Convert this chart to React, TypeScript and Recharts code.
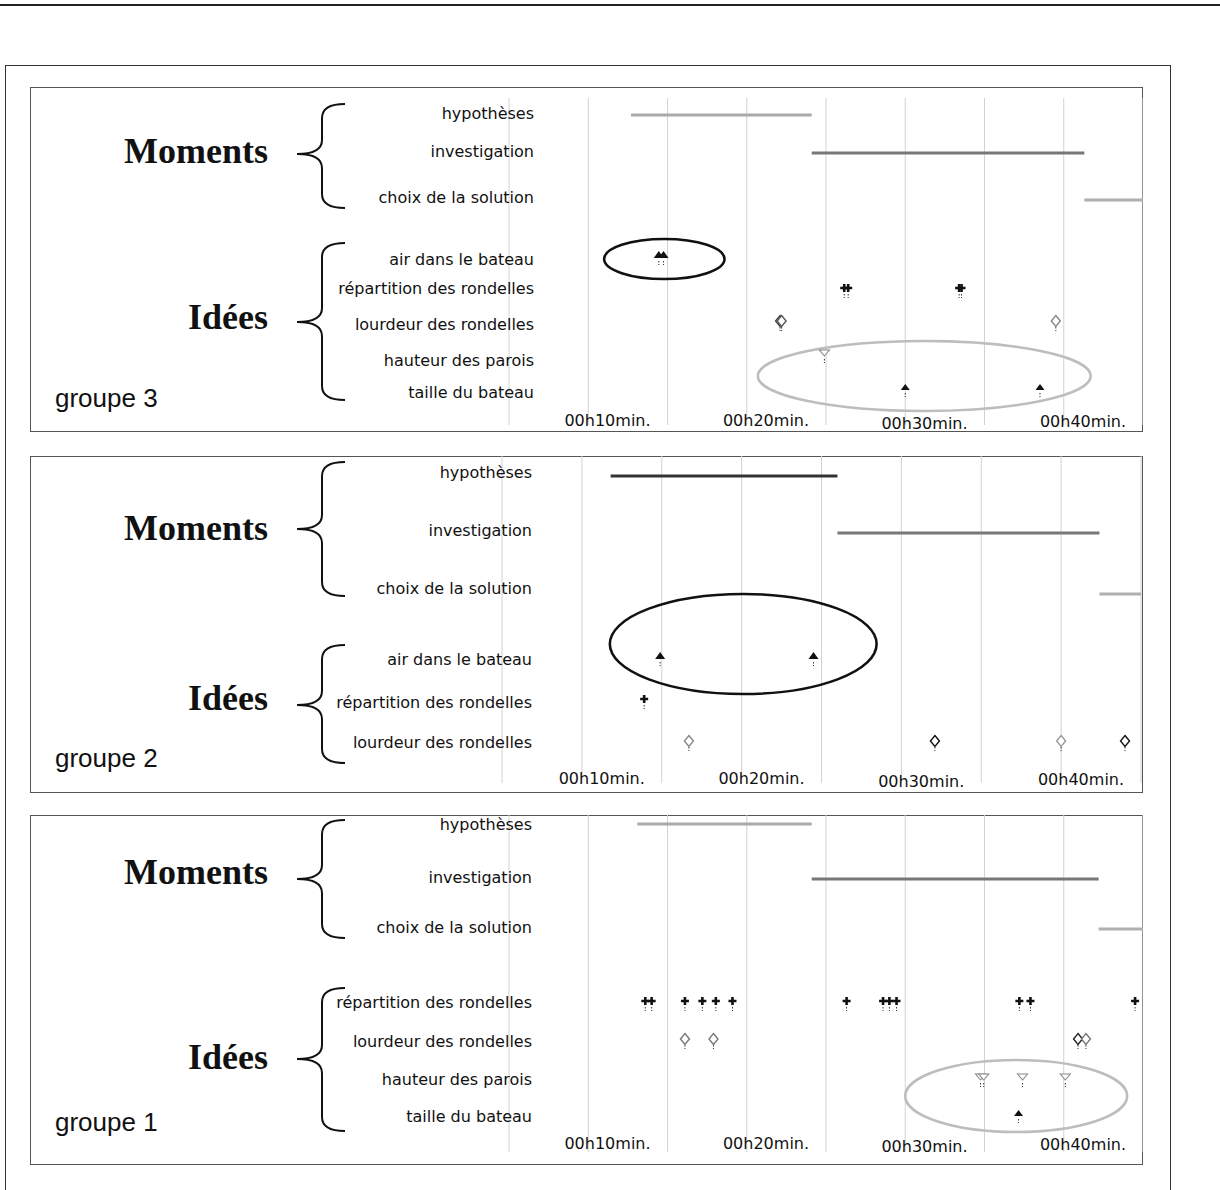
import React from "react";
import { ComposedChart, Scatter, XAxis, YAxis, CartesianGrid } from "recharts";

// time axis, in minutes
const TIME_TICKS = [0, 5, 10, 15, 20, 25, 30, 35, 40];
const LABELLED_TIMES = [10, 20, 30, 40];
const TIME_LABELS = ["00h10min.", "00h20min.", "00h30min.", "00h40min."];

const MOMENTS = ["hypothèses", "investigation", "choix de la solution"];
const AIR = "air dans le bateau";
const REPARTITION = "répartition des rondelles";
const LOURDEUR = "lourdeur des rondelles";
const HAUTEUR = "hauteur des parois";
const TAILLE = "taille du bateau";

// groupe 3
const g3Moments = [[7.7, 19.1], [19.1, 36.3], [36.3, 40]];
const g3Air = [9.45, 9.75];
const g3Repartition = [21.15, 21.4, 28.4, 28.55];
const g3Lourdeur = [17.1, 17.2, 34.5];
const g3LourdeurTone = ["#444", "#555", "#888"];
const g3Hauteur = [19.9];
const g3Taille = [25.0, 33.5];

// groupe 2
const g2Moments = [[6.8, 21.0], [21.0, 37.4], [37.4, 40]];
const g2Air = [9.9, 19.5];
const g2Repartition = [8.9];
const g2Lourdeur = [11.7, 27.1, 35.0, 39.0];
const g2LourdeurTone = ["#888", "#111", "#999", "#111"];

// groupe 1
const g1Moments = [[8.1, 19.1], [19.1, 37.2], [37.2, 40]];
const g1Repartition = [8.6, 9.0, 11.1, 12.2, 13.05, 14.1, 21.3, 23.6, 24.0, 24.45, 32.2, 32.9, 39.5];
const g1Lourdeur = [11.1, 12.9, 35.9, 36.4];
const g1LourdeurTone = ["#777", "#777", "#222", "#777"];
const g1Hauteur = [29.75, 29.95, 32.4, 35.1];
const g1Taille = [32.15];

const KIND: Record<string, string> = {
  [AIR]: "triUp",
  [REPARTITION]: "plus",
  [LOURDEUR]: "diamond",
  [HAUTEUR]: "triDown",
  [TAILLE]: "triUpSmall",
};

const LABEL_FONT = "'DejaVu Sans', Verdana, sans-serif";
const TICK_JITTER = [0, 0, 3, 1];

function Mark({ cx, cy, kind, color }: any) {
  const dots = (
    <line x1={cx} x2={cx} y1={cy + 6} y2={cy + 10} stroke="#333" strokeWidth={1} strokeDasharray="1.5 1.5" />
  );
  let body: any = null;
  if (kind === "plus") {
    body = <path d={`M${cx - 4} ${cy}H${cx + 4}M${cx} ${cy - 4}V${cy + 4}`} stroke="#111" strokeWidth={2.6} />;
  } else if (kind === "diamond") {
    body = (
      <polygon points={`${cx},${cy - 5.5} ${cx + 4.5},${cy} ${cx},${cy + 5.5} ${cx - 4.5},${cy}`}
        fill="#fff" stroke={color || "#777"} strokeWidth={1.4} />
    );
  } else if (kind === "triDown") {
    body = (
      <polygon points={`${cx - 5},${cy - 3} ${cx + 5},${cy - 3} ${cx},${cy + 3}`}
        fill="#fff" stroke="#888" strokeWidth={1.1} />
    );
  } else if (kind === "triUp") {
    body = <polygon points={`${cx - 5},${cy + 3} ${cx + 5},${cy + 3} ${cx},${cy - 4}`} fill="#111" />;
  } else {
    body = <polygon points={`${cx - 4.5},${cy + 3} ${cx + 4.5},${cy + 3} ${cx},${cy - 3}`} fill="#111" />;
  }
  return (
    <g>
      {dots}
      {body}
    </g>
  );
}

function bracePath(xr: number, xm: number, xl: number, top: number, tip: number, bottom: number) {
  const r = 14;
  return `M${xr} ${top} Q${xm} ${top} ${xm} ${top + r} L${xm} ${tip - r} Q${xm} ${tip} ${xl} ${tip} ` +
    `Q${xm} ${tip} ${xm} ${tip + r} L${xm} ${bottom - r} Q${xm} ${bottom} ${xr} ${bottom}`;
}

const PANELS = [
  {
    group: "groupe 3",
    top: 87, height: 345, plotLeft: 479, plotRight: 1113, gridTop: 11, gridBottom: 338, tickY: 333, labelX: 504,
    rows: [
      { name: MOMENTS[0], y: 28, ly: 26 },
      { name: MOMENTS[1], y: 66, ly: 64 },
      { name: MOMENTS[2], y: 113, ly: 110 },
      { name: AIR, y: 168, ly: 172 },
      { name: REPARTITION, y: 201, ly: 201 },
      { name: LOURDEUR, y: 234, ly: 237 },
      { name: HAUTEUR, y: 266, ly: 273 },
      { name: TAILLE, y: 300, ly: 305 },
    ],
    moments: g3Moments,
    momentColors: ["#aaaaaa", "#777777", "#b0b0b0"],
    ideas: [
      { name: AIR, times: g3Air },
      { name: REPARTITION, times: g3Repartition },
      { name: LOURDEUR, times: g3Lourdeur, tones: g3LourdeurTone },
      { name: HAUTEUR, times: g3Hauteur },
      { name: TAILLE, times: g3Taille },
    ],
    ellipses: [
      { t: 9.8, y: 172, half: 3.8, ry: 20, color: "#111" },
      { t: 26.2, y: 289, half: 10.5, ry: 35, color: "#bdbdbd" },
    ],
    decor: { moments: 76, idees: 242, mb: [17, 67, 121], ib: [156, 235, 313], groupe: 320 },
  },
  {
    group: "groupe 2",
    top: 456, height: 337, plotLeft: 472, plotRight: 1111, gridTop: 0, gridBottom: 327, tickY: 322, labelX: 502,
    rows: [
      { name: MOMENTS[0], y: 20, ly: 16 },
      { name: MOMENTS[1], y: 77, ly: 74 },
      { name: MOMENTS[2], y: 138, ly: 132 },
      { name: AIR, y: 200, ly: 203 },
      { name: REPARTITION, y: 243, ly: 246 },
      { name: LOURDEUR, y: 285, ly: 286 },
    ],
    moments: g2Moments,
    momentColors: ["#333333", "#777777", "#b0b0b0"],
    ideas: [
      { name: AIR, times: g2Air },
      { name: REPARTITION, times: g2Repartition },
      { name: LOURDEUR, times: g2Lourdeur, tones: g2LourdeurTone },
    ],
    ellipses: [{ t: 15.1, y: 188, half: 8.35, ry: 50, color: "#111" }],
    decor: { moments: 84, idees: 254, mb: [6, 73, 140], ib: [189, 249, 307], groupe: 311 },
  },
  {
    group: "groupe 1",
    top: 815, height: 350, plotLeft: 479, plotRight: 1113, gridTop: 0, gridBottom: 337, tickY: 328, labelX: 502,
    rows: [
      { name: MOMENTS[0], y: 9, ly: 9 },
      { name: MOMENTS[1], y: 64, ly: 62 },
      { name: MOMENTS[2], y: 114, ly: 112 },
      { name: REPARTITION, y: 186, ly: 187 },
      { name: LOURDEUR, y: 224, ly: 226 },
      { name: HAUTEUR, y: 262, ly: 264 },
      { name: TAILLE, y: 298, ly: 301 },
    ],
    moments: g1Moments,
    momentColors: ["#aaaaaa", "#777777", "#b0b0b0"],
    ideas: [
      { name: REPARTITION, times: g1Repartition },
      { name: LOURDEUR, times: g1Lourdeur, tones: g1LourdeurTone },
      { name: HAUTEUR, times: g1Hauteur },
      { name: TAILLE, times: g1Taille },
    ],
    ellipses: [{ t: 32.0, y: 281, half: 7.0, ry: 36, color: "#bdbdbd" }],
    decor: { moments: 69, idees: 254, mb: [5, 64, 123], ib: [173, 244, 316], groupe: 316 },
  },
];

const W = 1113;

function Panel({ cfg }: any) {
  const rowY = (name: string) => cfg.rows.find((r: any) => r.name === name).y;
  const pxPerMin = (cfg.plotRight - cfg.plotLeft) / 40;
  const d = cfg.decor;

  return (
    <div style={{ position: "absolute", left: 30, top: cfg.top, width: W, height: cfg.height }}>
      <div style={{ position: "absolute", inset: 0, border: "1px solid #555", boxSizing: "border-box" }} />
      <svg width={W} height={cfg.height} style={{ position: "absolute", left: 0, top: 0 }}>
        <text x={238} y={d.moments} textAnchor="end" fontFamily="'Liberation Serif', 'Times New Roman', serif"
          fontWeight="bold" fontSize={36} fill="#111">Moments</text>
        <text x={238} y={d.idees} textAnchor="end" fontFamily="'Liberation Serif', 'Times New Roman', serif"
          fontWeight="bold" fontSize={36} fill="#111">Idées</text>
        <path d={bracePath(315, 292, 267, d.mb[0], d.mb[1], d.mb[2])} fill="none" stroke="#111" strokeWidth={2} />
        <path d={bracePath(315, 292, 267, d.ib[0], d.ib[1], d.ib[2])} fill="none" stroke="#111" strokeWidth={2} />
        <text x={25} y={d.groupe} fontFamily="'Liberation Sans', Arial, sans-serif" fontSize={26} fill="#111">
          {cfg.group}
        </text>
      </svg>
      <div style={{ position: "absolute", left: 0, top: 0 }}>
        <ComposedChart
          width={W}
          height={cfg.height}
          margin={{ top: cfg.gridTop, right: W - cfg.plotRight, bottom: cfg.height - cfg.gridBottom - 1, left: 0 }}
        >
          <CartesianGrid vertical horizontal={false} stroke="#d2d2d2" />
          <XAxis
            type="number"
            dataKey="t"
            domain={[0, 40]}
            ticks={TIME_TICKS}
            interval={0}
            height={1}
            axisLine={false}
            tickLine={false}
            allowDataOverflow
            tick={(p: any) => {
              const i = LABELLED_TIMES.indexOf(p.payload.value);
              if (i < 0) return <g />;
              return (
                <text x={p.x - 60} y={cfg.tickY + TICK_JITTER[i]} textAnchor="middle" dominantBaseline="central"
                  fontFamily={LABEL_FONT} fontSize={16} fill="#111">
                  {TIME_LABELS[i]}
                </text>
              );
            }}
          />
          <YAxis
            type="number"
            dataKey="y"
            domain={[cfg.gridTop, cfg.gridBottom]}
            reversed
            ticks={cfg.rows.map((r: any) => r.y)}
            interval={0}
            width={cfg.plotLeft}
            axisLine={false}
            tickLine={false}
            allowDataOverflow
            tick={(p: any) => {
              const row = cfg.rows.find((r: any) => r.y === p.payload.value);
              if (!row) return <g />;
              return (
                <text x={cfg.labelX} y={p.y + (row.ly - row.y)} textAnchor="end" dominantBaseline="central"
                  fontFamily={LABEL_FONT} fontSize={16} fill="#111">
                  {row.name}
                </text>
              );
            }}
          />
          {cfg.moments.map((range: number[], i: number) => (
            <Scatter
              key={`m-${i}`}
              data={range.map((t) => ({ t, y: rowY(MOMENTS[i]) }))}
              line={{ stroke: cfg.momentColors[i], strokeWidth: 3 }}
              shape={() => <g />}
              isAnimationActive={false}
            />
          ))}
          {cfg.ellipses.map((e: any, i: number) => (
            <Scatter
              key={`e-${i}`}
              data={[{ t: e.t, y: e.y }]}
              shape={(p: any) => (
                <ellipse cx={p.cx} cy={p.cy} rx={e.half * pxPerMin} ry={e.ry} fill="none" stroke={e.color} strokeWidth={2.6} />
              )}
              isAnimationActive={false}
            />
          ))}
          {cfg.ideas.map((idea: any) => (
            <Scatter
              key={idea.name}
              data={idea.times.map((t: number, i: number) => ({ t, y: rowY(idea.name), tone: idea.tones ? idea.tones[i] : undefined }))}
              shape={(p: any) => <Mark cx={p.cx} cy={p.cy} kind={KIND[idea.name]} color={p.payload.tone} />}
              isAnimationActive={false}
            />
          ))}
        </ComposedChart>
      </div>
    </div>
  );
}

export default function App() {
  return (
    <div style={{ position: "absolute", left: 0, top: 0, width: 1220, height: 1190, overflow: "hidden", background: "#fff" }}>
      <div style={{ position: "absolute", left: 0, top: 4, width: 1220, height: 2, background: "#222" }} />
      <div style={{ position: "absolute", left: 5, top: 65, width: 1166, height: 1200, border: "1px solid #333", boxSizing: "border-box" }} />
      {PANELS.map((cfg) => (
        <Panel key={cfg.group} cfg={cfg} />
      ))}
    </div>
  );
}
